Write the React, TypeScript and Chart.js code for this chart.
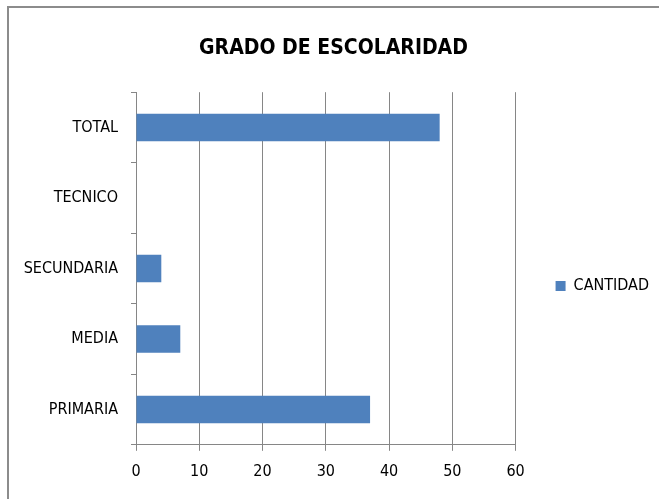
import React, { useEffect, useRef } from "react";
import { Chart, registerables } from "chart.js";

Chart.register(...registerables);

const categories = ["TOTAL", "TECNICO", "SECUNDARIA", "MEDIA", "PRIMARIA"];
const cantidad = [48, 0, 4, 7, 37];
const seriesName = "CANTIDAD";
const chartTitle = "GRADO DE ESCOLARIDAD";
const xMin = 0;
const xMax = 60;
const xStep = 10;

const FONT = '"Liberation Sans Narrow", "DejaVu Sans Condensed", "Arial Narrow", sans-serif';

export default function App() {
  const ref = useRef<HTMLCanvasElement>(null);

  useEffect(() => {
    if (!ref.current) return;
    const chart = new Chart(ref.current, {
      type: "bar",
      data: {
        labels: categories,
        datasets: [
          {
            label: seriesName,
            data: cantidad,
            backgroundColor: "#4F81BD",
            borderWidth: 0,
            categoryPercentage: 1,
            barPercentage: 0.39,
          },
        ],
      },
      options: {
        indexAxis: "y",
        responsive: false,
        animation: false,
        devicePixelRatio: 1,
        layout: { padding: { left: 8, right: 0, top: 0, bottom: 7 } },
        plugins: {
          title: {
            display: true,
            text: chartTitle,
            color: "#000",
            font: { family: FONT, size: 21, weight: "bold" },
            padding: { top: 36, bottom: 31 },
          },
          legend: {
            display: true,
            position: "right",
            title: {
              display: true,
              text: " ",
              font: { family: FONT, size: 10, lineHeight: 1 },
              padding: { top: 70, bottom: 0 },
            },
            labels: {
              boxWidth: 10,
              boxHeight: 10,
              padding: 40,
              color: "#000",
              font: { family: FONT, size: 16 },
            },
          },
          tooltip: { enabled: false },
        },
        scales: {
          x: {
            min: xMin,
            max: xMax,
            ticks: {
              stepSize: xStep,
              color: "#000",
              padding: 11,
              font: { family: FONT, size: 16 },
            },
            grid: {
              color: "#868686",
              lineWidth: 1,
              tickLength: 6,
              drawTicks: true,
            },
            border: { display: true, color: "#868686", width: 1 },
          },
          y: {
            afterFit: (scale: any) => {
              scale.width = 128;
            },
            ticks: {
              color: "#000",
              padding: 13,
              font: { family: FONT, size: 16 },
            },
            grid: {
              drawOnChartArea: false,
              drawTicks: true,
              tickLength: 5,
              color: "#868686",
              offset: true,
            },
            border: { display: true, color: "#868686", width: 1 },
          },
        },
      },
    });
    return () => chart.destroy();
  }, []);

  return (
    <div style={{ position: "fixed", left: 0, top: 0, width: 659, height: 499, overflow: "hidden", background: "#fff" }}>
      <div
        style={{
          position: "absolute",
          left: 7,
          top: 6,
          width: 720,
          height: 600,
          border: "2px solid #8c8c8c",
          boxSizing: "border-box",
        }}
      />
      <canvas
        ref={ref}
        width={659}
        height={499}
        style={{ position: "absolute", left: 0, top: 0, width: 659, height: 499 }}
      />
    </div>
  );
}
